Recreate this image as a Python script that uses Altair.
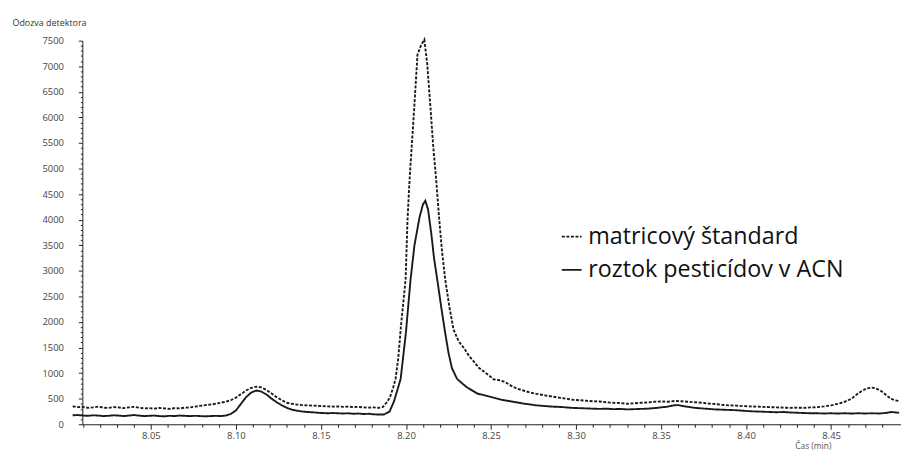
import altair as alt
import pandas as pd

series_names = ["matricový štandard", "roztok pesticídov v ACN"]

t_matrix = [8.004, 8.007, 8.010, 8.013, 8.016, 8.019, 8.022, 8.025, 8.028, 8.031, 8.034, 8.037, 8.040, 8.043,
            8.046, 8.049, 8.052, 8.055, 8.058, 8.061, 8.064, 8.067, 8.070, 8.073, 8.076, 8.079, 8.082, 8.085,
            8.088, 8.091, 8.094, 8.097, 8.100, 8.103, 8.106, 8.109, 8.112, 8.115, 8.118, 8.121, 8.124, 8.127,
            8.130, 8.133, 8.136, 8.139, 8.142, 8.145, 8.148, 8.151, 8.154, 8.157, 8.160, 8.163, 8.166, 8.169,
            8.172, 8.175, 8.178, 8.181, 8.184, 8.1865, 8.1885, 8.1905, 8.1925, 8.1939, 8.1955, 8.197, 8.1985,
            8.1998, 8.2009, 8.2021, 8.2045, 8.2068, 8.209, 8.2108, 8.2125, 8.2145, 8.216, 8.2178, 8.2196,
            8.2213, 8.2231, 8.2255, 8.228, 8.231, 8.2345, 8.237, 8.2406, 8.243, 8.2458, 8.249, 8.2515, 8.255,
            8.258, 8.2615, 8.265, 8.269, 8.273, 8.2775, 8.2825, 8.2865, 8.290, 8.294, 8.298, 8.302, 8.306,
            8.310, 8.314, 8.318, 8.322, 8.326, 8.330, 8.334, 8.338, 8.342, 8.346, 8.350, 8.354, 8.358, 8.362,
            8.366, 8.370, 8.374, 8.378, 8.382, 8.386, 8.390, 8.394, 8.398, 8.402, 8.406, 8.410, 8.414, 8.418,
            8.422, 8.426, 8.430, 8.434, 8.438, 8.442, 8.446, 8.450, 8.454, 8.458, 8.462, 8.465, 8.468, 8.471,
            8.4737, 8.476, 8.479, 8.482, 8.485, 8.4875, 8.490]
v_matrix = [350, 335, 340, 320, 330, 345, 325, 320, 335, 330, 315, 330, 340, 325,
            310, 315, 305, 320, 310, 300, 315, 310, 325, 330, 345, 360, 375, 385,
            400, 420, 440, 470, 520, 590, 660, 710, 735, 720, 670, 600, 530, 470,
            420, 400, 385, 375, 370, 365, 360, 355, 350, 345, 350, 340, 345, 335,
            340, 330, 325, 330, 320, 340, 420, 520, 720, 890, 1300, 1900, 2400,
            2830, 3990, 4770, 6000, 7230, 7420, 7520, 7050, 6150, 5450, 4770, 3990,
            3350, 2830, 2300, 1850, 1620, 1470, 1340, 1200, 1100, 1030, 950, 880, 860,
            830, 760, 700, 660, 620, 590, 560, 540, 520, 500, 480, 470, 460,
            450, 445, 430, 420, 415, 400, 410, 420, 425, 440, 445, 440, 455, 450,
            440, 430, 420, 405, 395, 380, 370, 365, 355, 350, 345, 340, 335, 330,
            325, 320, 325, 320, 330, 335, 350, 370, 400, 440, 500, 580, 650, 700,
            717, 705, 660, 580, 500, 470, 455]

t_acn = [8.004, 8.007, 8.010, 8.013, 8.016, 8.019, 8.022, 8.025, 8.028, 8.031, 8.034, 8.037, 8.040, 8.043,
         8.046, 8.049, 8.052, 8.055, 8.058, 8.061, 8.064, 8.067, 8.070, 8.073, 8.076, 8.079, 8.082, 8.085,
         8.088, 8.091, 8.094, 8.097, 8.100, 8.103, 8.106, 8.109, 8.112, 8.115, 8.118, 8.121, 8.124, 8.127,
         8.130, 8.133, 8.136, 8.139, 8.142, 8.145, 8.148, 8.151, 8.154, 8.157, 8.160, 8.163, 8.166, 8.169,
         8.172, 8.175, 8.178, 8.181, 8.184, 8.187, 8.1904, 8.193, 8.1969, 8.200, 8.2027, 8.205, 8.208,
         8.2100, 8.2114, 8.213, 8.215, 8.2165, 8.2184, 8.2207, 8.223, 8.225, 8.227, 8.230, 8.233, 8.236,
         8.242, 8.2493, 8.256, 8.263, 8.270, 8.2767, 8.282, 8.286, 8.290, 8.294, 8.298, 8.302, 8.306,
         8.310, 8.314, 8.318, 8.322, 8.326, 8.330, 8.334, 8.338, 8.342, 8.346, 8.350, 8.354, 8.3575, 8.360,
         8.363, 8.366, 8.370, 8.374, 8.378, 8.382, 8.386, 8.390, 8.394, 8.398, 8.402, 8.406, 8.410, 8.414,
         8.418, 8.422, 8.426, 8.430, 8.434, 8.438, 8.442, 8.446, 8.450, 8.454, 8.458, 8.462, 8.466, 8.470,
         8.474, 8.478, 8.482, 8.4855, 8.488, 8.490]
v_acn = [175, 180, 170, 165, 175, 170, 160, 165, 175, 170, 160, 170, 180, 170,
         160, 165, 170, 160, 155, 165, 160, 170, 165, 160, 165, 160, 155, 160,
         165, 160, 170, 200, 270, 400, 530, 620, 660, 640, 580, 500, 430, 370,
         320, 285, 265, 250, 240, 235, 225, 220, 215, 220, 215, 210, 215, 205,
         210, 200, 205, 195, 190, 190, 250, 450, 890, 1800, 2830, 3500, 4050,
         4300, 4370, 4200, 3700, 3250, 2830, 2300, 1800, 1400, 1100, 890, 800, 720,
         600, 540, 480, 440, 400, 370, 355, 345, 340, 330, 320, 315, 310,
         305, 300, 305, 295, 300, 290, 295, 300, 305, 315, 330, 345, 370, 375,
         355, 340, 320, 310, 300, 290, 285, 280, 275, 265, 255, 250, 245, 240,
         235, 240, 230, 225, 220, 215, 215, 210, 215, 210, 215, 210, 215, 210,
         215, 210, 220, 240, 230, 225]

x_ticks = [8.01, 8.02, 8.03, 8.04, 8.05, 8.06, 8.07, 8.08, 8.09, 8.10, 8.11, 8.12, 8.13, 8.14, 8.15, 8.16,
           8.17, 8.18, 8.19, 8.20, 8.21, 8.22, 8.23, 8.24, 8.25, 8.26, 8.27, 8.28, 8.29, 8.30, 8.31, 8.32,
           8.33, 8.34, 8.35, 8.36, 8.37, 8.38, 8.39, 8.40, 8.41, 8.42, 8.43, 8.44, 8.45, 8.46, 8.47, 8.48]
y_ticks = list(range(0, 7600, 100))

df = pd.concat([
    pd.DataFrame({"t": t_matrix, "v": v_matrix, "s": series_names[0], "o": range(len(t_matrix))}),
    pd.DataFrame({"t": t_acn, "v": v_acn, "s": series_names[1], "o": range(len(t_acn))}),
])

major_x = "abs(datum.value*20 - round(datum.value*20)) < 0.001"
major_y = "datum.value % 500 === 0"

chart = alt.Chart(df).mark_line(color="#1a1a1a", strokeWidth=1.9, clip=False).encode(
    x=alt.X("t:Q", scale=alt.Scale(domain=[8.0097, 8.4911], nice=False, zero=False),
            axis=alt.Axis(values=x_ticks, title="Čas (min)", grid=False,
                          labelExpr=f"{major_x} ? format(datum.value, '.2f') : ''",
                          tickSize={"condition": {"test": major_x, "value": 5}, "value": 3},
                          labelPadding=1, labelFlush=False,
                          titleX=737, titleY=21.5, titleAlign="center", titleBaseline="middle",
                          titleFontSize=8.5, titleFontWeight="normal", titleColor="#555")),
    y=alt.Y("v:Q", scale=alt.Scale(domain=[0, 7500], nice=False),
            axis=alt.Axis(values=y_ticks, title="Odozva detektora", grid=False,
                          labelExpr=f"{major_y} ? '' + datum.value : ''",
                          tickSize={"condition": {"test": major_y, "value": 4}, "value": 2},
                          labelPadding=15,
                          titleAngle=0, titleX=-71, titleY=-18, titleAlign="left",
                          titleBaseline="middle", titleFontSize=9, titleFontWeight="normal",
                          titleColor="#333")),
    strokeDash=alt.StrokeDash("s:N", scale=alt.Scale(domain=series_names, range=[[3, 1.6], [1, 0]]),
                              legend=alt.Legend(title=None, orient="none", legendX=482, legendY=186,
                                                symbolType="stroke", symbolSize=400,
                                                symbolStrokeWidth=1.8, symbolStrokeColor="#1a1a1a",
                                                labelFont="Open Sans", labelFontSize=23.5,
                                                labelColor="#111", labelOffset=5, rowPadding=8.5,
                                                labelLimit=400)),
    order="o:Q",
).properties(
    width=826, height=387,
    autosize=alt.AutoSizeParams(type="none"),
    padding={"left": 75, "top": 31, "right": 0, "bottom": 26},
).configure_axis(
    labelFont="Open Sans", labelFontSize=9.5, labelColor="#444",
    titleFont="Open Sans", domainColor="#222", tickColor="#222", domainWidth=1,
).configure_view(stroke=None)

chart.save("out.html", embed_options={"renderer": "svg", "actions": False})
